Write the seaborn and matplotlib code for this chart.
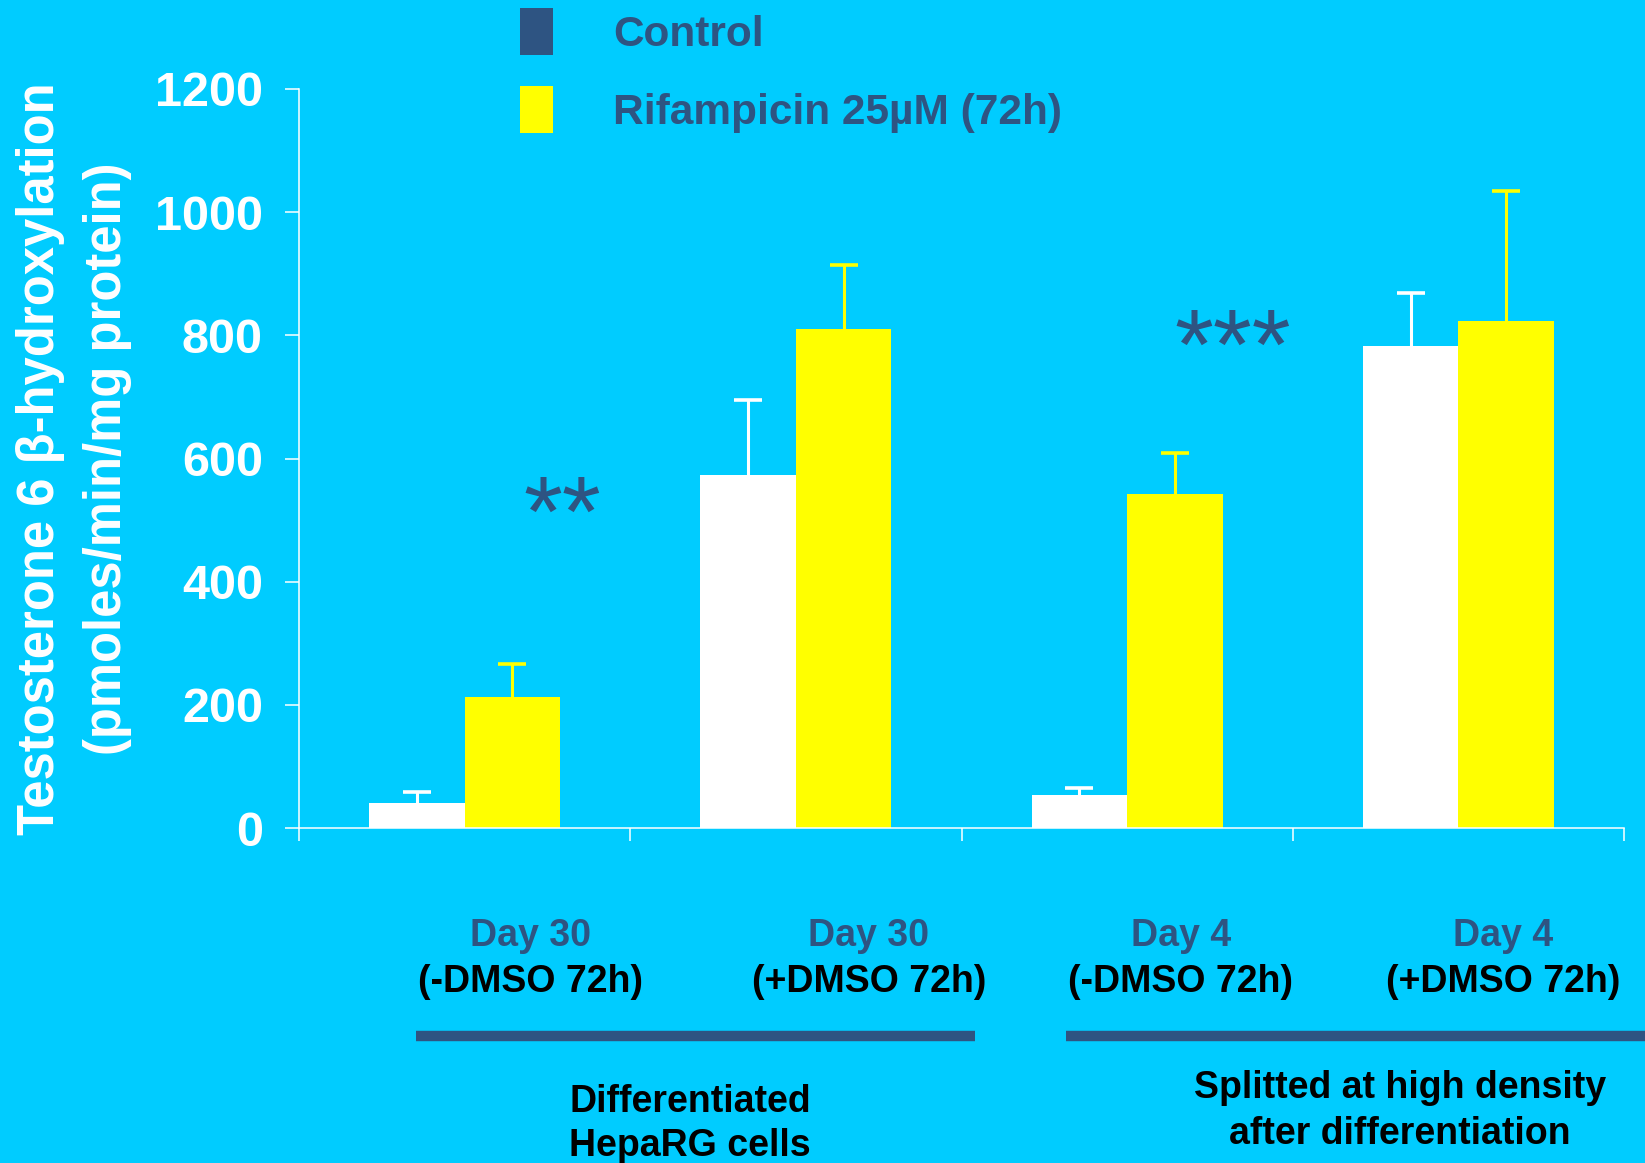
import matplotlib
matplotlib.use("Agg")
import matplotlib.pyplot as plt
from matplotlib.patches import Patch
import numpy as np
import pandas as pd
import seaborn as sns

# ---- data -------------------------------------------------------------
conditions = ["Day 30\n(-DMSO 72h)", "Day 30\n(+DMSO 72h)",
              "Day 4\n(-DMSO 72h)", "Day 4\n(+DMSO 72h)"]
day_labels = ["Day 30", "Day 30", "Day 4", "Day 4"]
dmso_labels = ["(-DMSO 72h)", "(+DMSO 72h)", "(-DMSO 72h)", "(+DMSO 72h)"]
treatments = ["Control", "Rifampicin 25\u00b5M (72h)"]
control_mean = [41, 574, 53, 782]
control_sd = [17, 121, 12, 86]
rifampicin_mean = [213, 811, 542, 823]
rifampicin_sd = [53, 103, 67, 212]
significance = ["**", "", "***", ""]
group_names = ["Differentiated\nHepaRG cells",
               "Splitted at high density\nafter differentiation"]
y_ticks = [0, 200, 400, 600, 800, 1000, 1200]

# ---- style ------------------------------------------------------------
BG = "#00CCFF"
YELLOW = "#FFFF00"
NAVY = "#2E5482"

sns.set_theme(style="ticks")
plt.rcParams["font.family"] = ["Liberation Sans", "DejaVu Sans"]
plt.rcParams["font.weight"] = "bold"

df = pd.DataFrame({
    "condition": conditions * 2,
    "treatment": [treatments[0]] * 4 + [treatments[1]] * 4,
    "value": control_mean + rifampicin_mean,
})

W, H = 1645, 1163
fig = plt.figure(figsize=(W / 100, H / 100), dpi=100, facecolor=BG)
ax = fig.add_axes([299 / W, 1 - 828 / H, (1624 - 299) / W, (828 - 89) / H])
ax.set_facecolor(BG)

sns.barplot(data=df, x="condition", y="value", hue="treatment",
            hue_order=treatments, palette=["white", YELLOW],
            width=0.576, errorbar=None, saturation=1, linewidth=0,
            legend=False, ax=ax)

# upper-only error bars on each bar
for cont, sds, col in zip(ax.containers, [control_sd, rifampicin_sd],
                          ["white", YELLOW]):
    xs = [p.get_x() + p.get_width() / 2 for p in cont.patches]
    hs = [p.get_height() for p in cont.patches]
    _, caps, _ = ax.errorbar(xs, hs, yerr=[np.zeros(len(sds)), sds],
                             fmt="none", ecolor=col, elinewidth=2.2,
                             capsize=10, capthick=2.6, zorder=0.5)
    for c in caps:
        if np.allclose(c.get_ydata(), hs):
            c.set_visible(False)

# axes
ax.set_xlim(-0.5, 3.5)
ax.set_ylim(0, 1200)
ax.set_yticks(y_ticks)
ax.set_xticks([-0.5, 0.5, 1.5, 2.5, 3.5])
ax.set_xticklabels([])
ax.set_xlabel("")
for s in ["top", "right"]:
    ax.spines[s].set_visible(False)
for s in ["left", "bottom"]:
    ax.spines[s].set_color("white")
    ax.spines[s].set_linewidth(1.1)
ax.tick_params(axis="y", colors="white", length=10, width=1.1, pad=16,
               labelsize=35)
ax.tick_params(axis="x", colors="white", length=9, width=1.1)
for lab in ax.get_yticklabels():
    lab.set_fontweight("bold")

ax.set_ylabel("Testosterone 6 \u03b2-hydroxylation\n(pmoles/min/mg protein)",
              color="white", fontsize=36.5, fontweight="bold",
              linespacing=1.48, ha="center", va="center")
ax.yaxis.set_label_coords(-0.170, 0.5)

# significance marks
star_x = [0.296, 1.3, 2.318, 3.3]
star_y = [500, 0, 771, 0]
for sx, sy, txt in zip(star_x, star_y, significance):
    if txt:
        ax.text(sx, sy, txt, ha="center", va="center", fontsize=72,
                color=NAVY, fontweight="normal")

# legend
handles = [Patch(facecolor=NAVY, edgecolor="none"),
           Patch(facecolor=YELLOW, edgecolor="none")]
leg = fig.legend(handles, treatments, loc="upper left",
                 bbox_to_anchor=(520 / W, 1 - 8 / H), frameon=False,
                 prop={"size": 30.5, "weight": "bold"},
                 handlelength=0.77, handleheight=1.32, handletextpad=1.43,
                 labelspacing=0.74, borderpad=0, borderaxespad=0)
for t in leg.get_texts():
    t.set_color(NAVY)

# category labels under the axis
label_x = [531, 869, 1181, 1503]
for lx, d, m in zip(label_x, day_labels, dmso_labels):
    fig.text(lx / W, 1 - 936 / H, d, ha="center", va="center", fontsize=27,
             color=NAVY, fontweight="bold")
    fig.text(lx / W, 1 - 982 / H, m, ha="center", va="center", fontsize=27,
             color="black", fontweight="bold")

# group brackets and names
for x0, x1 in [(416, 975), (1066, 1645)]:
    fig.add_artist(plt.Line2D([x0 / W, x1 / W], [1 - 1036 / H] * 2,
                              color=NAVY, linewidth=7.5,
                              solid_capstyle="butt"))
group_x = [690, 1400]
group_y = [(1102, 1146), (1088, 1134)]
for gx, (y1, y2), name in zip(group_x, group_y, group_names):
    l1, l2 = name.split("\n")
    fig.text(gx / W, 1 - y1 / H, l1, ha="center", va="center", fontsize=27,
             color="black", fontweight="bold")
    fig.text(gx / W, 1 - y2 / H, l2, ha="center", va="center", fontsize=27,
             color="black", fontweight="bold")

fig.savefig("out.png", dpi=100, facecolor=BG)
